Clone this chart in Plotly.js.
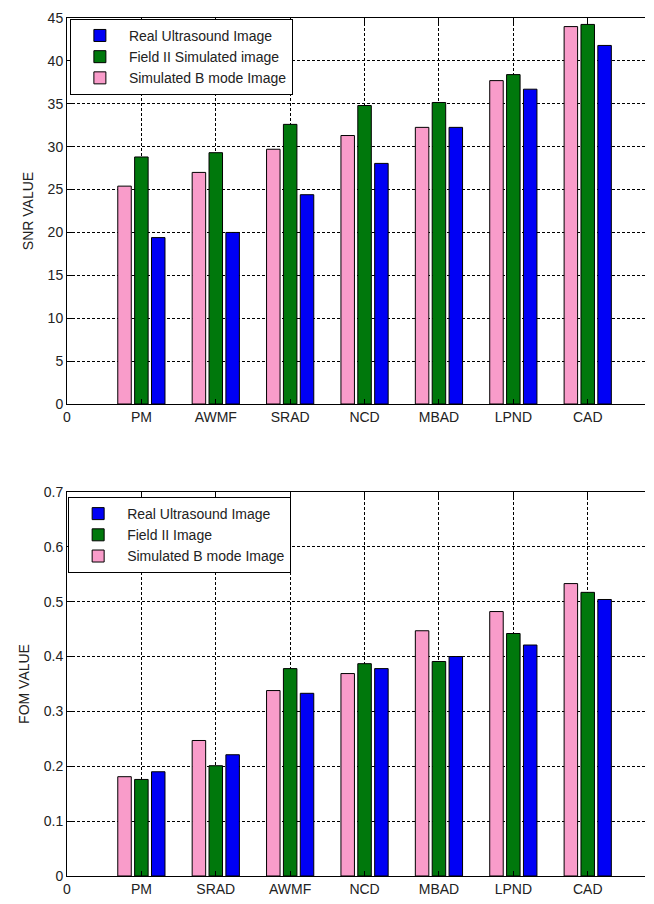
<!DOCTYPE html>
<html>
<head>
<meta charset="utf-8">
<script src="https://cdn.plot.ly/plotly-3.0.1.min.js"></script>
<style>html,body{margin:0;padding:0;background:#fff;}#chart{width:654px;height:904px;}</style>
</head>
<body>
<div id="chart"></div>
<script>
// Top chart (SNR)
const snrCategories = ['PM', 'AWMF', 'SRAD', 'NCD', 'MBAD', 'LPND', 'CAD'];
const snrSimulatedB = [25.4, 27.0, 29.7, 31.3, 32.25, 37.7, 44.0];
const snrField2 = [28.8, 29.3, 32.6, 34.8, 35.15, 38.4, 44.25];
const snrReal = [19.4, 20.0, 24.4, 28.05, 32.25, 36.7, 41.8];

// Bottom chart (FOM)
const fomCategories = ['PM', 'SRAD', 'AWMF', 'NCD', 'MBAD', 'LPND', 'CAD'];
const fomSimulatedB = [0.181, 0.247, 0.338, 0.369, 0.447, 0.482, 0.533];
const fomField2 = [0.176, 0.201, 0.378, 0.387, 0.391, 0.442, 0.517];
const fomReal = [0.190, 0.221, 0.333, 0.378, 0.400, 0.421, 0.504];

const seriesNamesTop = ['Simulated B mode Image', 'Field II Simulated image', 'Real Ultrasound Image'];
const seriesNamesBottom = ['Simulated B mode Image', 'Field II Image', 'Real Ultrasound Image'];

const colors = ['#F99CCA', '#00780C', '#0000F5'];
const positions = snrCategories.map((_, i) => i + 1);

function mk(y, name, color, xa, ya, leg) {
  return {
    type: 'bar', x: positions, y: y, name: name,
    xaxis: xa, yaxis: ya, legend: leg,
    marker: {color: color, line: {color: '#000', width: 1}},
    hoverinfo: 'y'
  };
}

const data = [
  mk(snrSimulatedB, seriesNamesTop[0], colors[0], 'x', 'y', 'legend'),
  mk(snrField2, seriesNamesTop[1], colors[1], 'x', 'y', 'legend'),
  mk(snrReal, seriesNamesTop[2], colors[2], 'x', 'y', 'legend'),
  mk(fomSimulatedB, seriesNamesBottom[0], colors[0], 'x2', 'y2', 'legend2'),
  mk(fomField2, seriesNamesBottom[1], colors[1], 'x2', 'y2', 'legend2'),
  mk(fomReal, seriesNamesBottom[2], colors[2], 'x2', 'y2', 'legend2')
];

const font = {family: 'Liberation Sans, Arial, sans-serif', size: 14, color: '#222'};
const gridStyle = {showgrid: true, gridcolor: '#000', gridwidth: 1, griddash: '3px,2px'};

function xAxis(cats, anchor) {
  return Object.assign({
    anchor: anchor, range: [0, 7.77],
    tickmode: 'array', tickvals: [0].concat(positions), ticktext: ['0'].concat(cats),
    ticks: 'inside', ticklen: 5, tickcolor: '#000',
    showline: true, linecolor: '#000', linewidth: 1, mirror: 'ticks',
    zeroline: false, tickfont: font
  }, gridStyle);
}
function yAxis(range, dtick, dom, anchor, title, standoff) {
  return Object.assign({
    anchor: anchor, domain: dom, range: range, dtick: dtick,
    ticks: 'inside', ticklen: 5, tickcolor: '#000',
    showline: true, linecolor: '#000', linewidth: 1,
    zeroline: false, tickfont: font,
    title: {text: title, font: font, standoff: standoff}
  }, gridStyle);
}

const layout = {
  width: 654, height: 904,
  margin: {l: 67, r: 9, t: 18, b: 28},
  paper_bgcolor: '#fff', plot_bgcolor: '#fff',
  font: font,
  barmode: 'group', bargap: 0.32, bargroupgap: 0.2,
  showlegend: true,
  xaxis: xAxis(snrCategories, 'y'),
  yaxis: yAxis([0, 45], 5, [0.5501, 1.0], 'x', 'SNR VALUE', 10),
  xaxis2: xAxis(fomCategories, 'y2'),
  yaxis2: yAxis([0, 0.7], 0.1, [0, 0.4476], 'x2', 'FOM VALUE', 10),
  legend: {
    x: 0.005, y: 0.999, xanchor: 'left', yanchor: 'top',
    bgcolor: '#fff', bordercolor: '#000', borderwidth: 1,
    traceorder: 'reversed', font: font, itemwidth: 48, tracegroupgap: 0
  },
  legend2: {
    x: 0.002, y: 0.4417, xanchor: 'left', yanchor: 'top',
    bgcolor: '#fff', bordercolor: '#000', borderwidth: 1,
    traceorder: 'reversed', font: font, itemwidth: 48, tracegroupgap: 0
  }
};

Plotly.newPlot('chart', data, layout, {displayModeBar: false, staticPlot: true});
</script>
</body>
</html>
